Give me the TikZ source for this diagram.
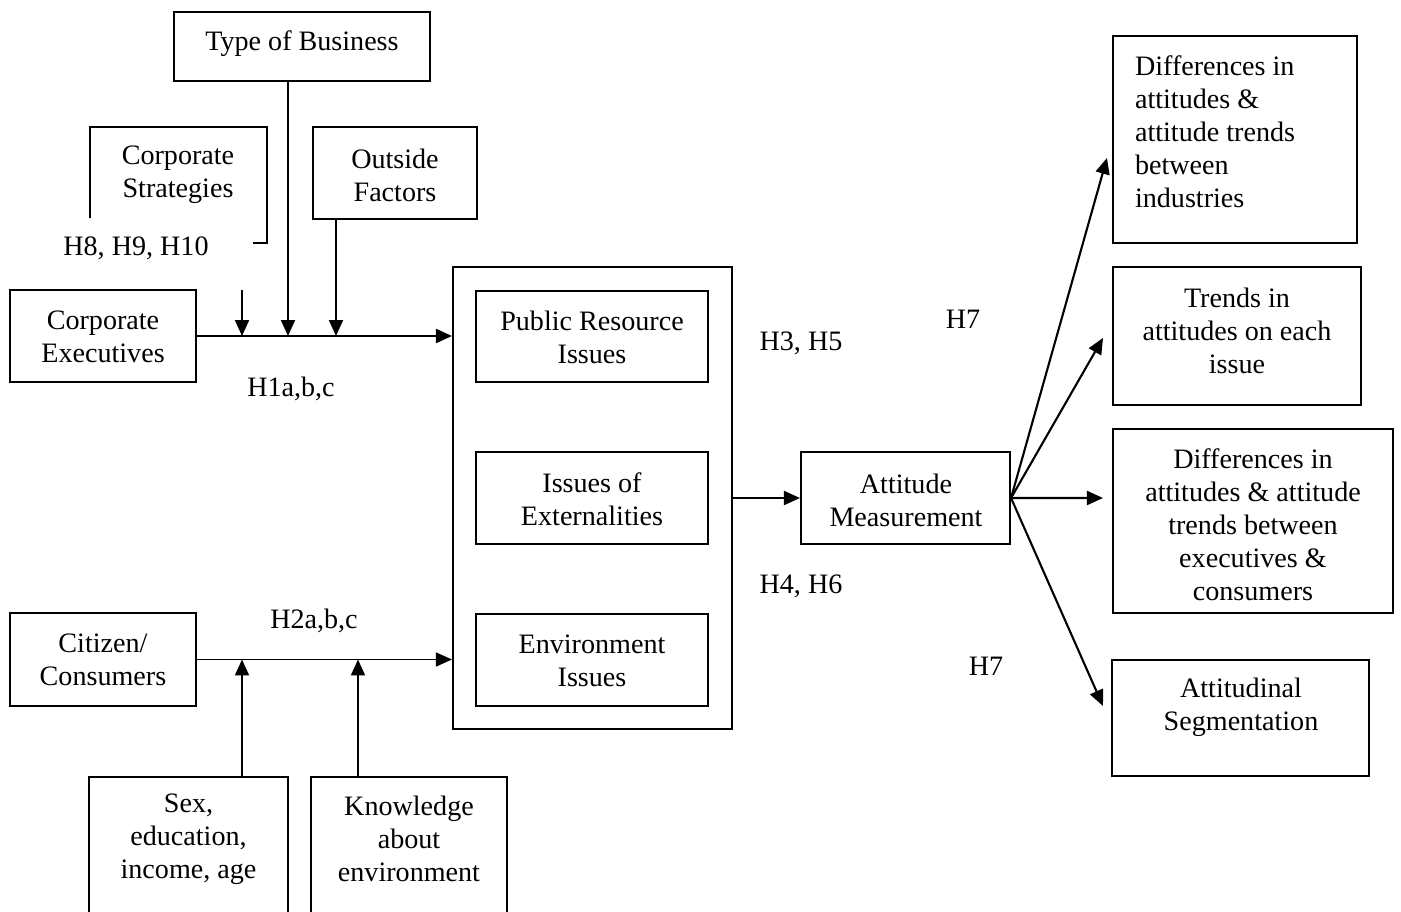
\documentclass[tikz,border=0pt]{standalone}
\usepackage{fontspec}
\setmainfont{Liberation Serif}
\usetikzlibrary{arrows.meta}

\begin{document}
\begin{tikzpicture}[x=0.02cm,y=-0.02cm,
    font=\fontsize{16}{18.8}\selectfont,
    line width=1.2pt,
    box/.style={draw,line width=1.2pt,inner sep=0pt},
    txt/.style={align=center,inner sep=0pt,yshift=-0.06cm},
    arr/.style={-{Triangle[length=0.32cm,width=0.28cm]}}]
    \useasboundingbox (0,0) rectangle (1401,912);
    \clip (0,0) rectangle (1401,912);
    % executives side ========================================
    \node[box,minimum width=5.12cm,minimum height=1.38cm] (type)    at (302,46.5) {};
    \node[txt]                                            (typeT)   at (302,41)   {Type of Business};
    \node[txt]                                            (strat)   at (178,172)  {Corporate\\Strategies};
    \node[txt]                                            (hten)    at (136,245)  {H8, H9, H10};
    \node[box,minimum width=3.28cm,minimum height=1.84cm] (outside) at (395,173)  {};
    \node[txt]                                            (outT)    at (395,172)  {Outside\\Factors};
    \node[box,minimum width=3.72cm,minimum height=1.84cm] (exec)    at (103,336)  {};
    \node[txt]                                            (execT)   at (103,334)  {Corporate\\Executives};
    \node[txt]                                            (hone)    at (291,386)  {H1a,b,c};
    % open frame round the strategies
    \draw (90,218) -- (90,127) -- (267,127) -- (267,243) -- (253,243);
    % consumers side =========================================
    \node[box,minimum width=3.72cm,minimum height=1.86cm] (cit)     at (103,659.5) {};
    \node[txt]                                            (citT)    at (103,657)  {Citizen/\\Consumers};
    \node[txt]                                            (htwo)    at (314,618)  {H2a,b,c};
    \node[box,minimum width=3.98cm,minimum height=3.6cm,anchor=north] (sex)  at (188.5,776) {};
    \node[txt]                                            (sexT)    at (188.5,836) {Sex,\\education,\\income, age};
    \node[box,minimum width=3.92cm,minimum height=3.6cm,anchor=north] (know) at (409,776) {};
    \node[txt]                                            (knowT)   at (409,836)  {Knowledge\\about\\environment};
    % issues =================================================
    \node[box,minimum width=5.58cm,minimum height=9.24cm] (issues)  at (592.5,498) {};
    \node[box,minimum width=4.64cm,minimum height=1.82cm] (pub)     at (592,336.5) {};
    \node[txt]                                            (pubT)    at (592,334)  {Public Resource\\Issues};
    \node[box,minimum width=4.64cm,minimum height=1.84cm] (ext)     at (592,498)  {};
    \node[txt]                                            (extT)    at (592,496)  {Issues of\\Externalities};
    \node[box,minimum width=4.64cm,minimum height=1.84cm] (env)     at (592,660)  {};
    \node[txt]                                            (envT)    at (592,658)  {Environment\\Issues};
    \node[txt]                                            (hthree)  at (801,340)  {H3, H5};
    \node[txt]                                            (hfour)   at (801,583)  {H4, H6};
    % measurement and outcomes ===============================
    \node[box,minimum width=4.18cm,minimum height=1.84cm] (att)     at (905.5,498) {};
    \node[txt]                                            (attT)    at (906,497)  {Attitude\\Measurement};
    \node[txt]                                            (hsevA)   at (963,316)  {H7};
    \node[txt]                                            (hsevB)   at (986,663)  {H7};
    \node[box,minimum width=4.88cm,minimum height=4.14cm] (diffA)   at (1235,139.5) {};
    \node[txt,align=left,anchor=west]                     (diffAT)  at (1134,128.5) {Differences in\\attitudes \&\\attitude trends\\between\\industries};
    \node[box,minimum width=4.96cm,minimum height=2.76cm] (trend)   at (1237,336) {};
    \node[txt]                                            (trendT)  at (1237,327.5) {Trends in\\attitudes on each\\issue};
    \node[box,minimum width=5.6cm,minimum height=3.68cm]  (diffB)   at (1253,521) {};
    \node[txt]                                            (diffBT)  at (1253,522) {Differences in\\attitudes \& attitude\\trends between\\executives \&\\consumers};
    \node[box,minimum width=5.14cm,minimum height=2.32cm] (seg)     at (1240.5,718) {};
    \node[txt]                                            (segT)    at (1241,704.5) {Attitudinal\\Segmentation};
    % connectors =============================================
    \coordinate (sdrop) at (242,290);
    \coordinate (tdrop) at (288,81);
    \coordinate (odrop) at (336,219);
    \draw[arr] (exec.east) -- (exec.east -| issues.west);
    \draw[arr] (sdrop) -- (sdrop |- exec.east);
    \draw[arr] (tdrop) -- (tdrop |- exec.east);
    \draw[arr] (odrop) -- (odrop |- exec.east);
    \draw[arr,line width=.7pt] (cit.east) -- (cit.east -| issues.west);
    \draw[arr] (sex.north -| 242,0) -- (242,659.5);
    \draw[arr] (know.north -| 358,0) -- (358,659.5);
    \draw[arr] (issues.east) -- (att.west);
    \draw[arr] (att.east) -- ([xshift=-0.1cm,yshift=-0.37cm]diffA.west);
    \draw[arr] (att.east) -- ([xshift=-0.18cm,yshift=-0.04cm]trend.west);
    \draw[arr] (att.east) -- ([xshift=-0.18cm,yshift=0.46cm]diffB.west);
    \draw[arr] (att.east) -- ([xshift=-0.16cm,yshift=0.24cm]seg.west);
\end{tikzpicture}
\end{document}
